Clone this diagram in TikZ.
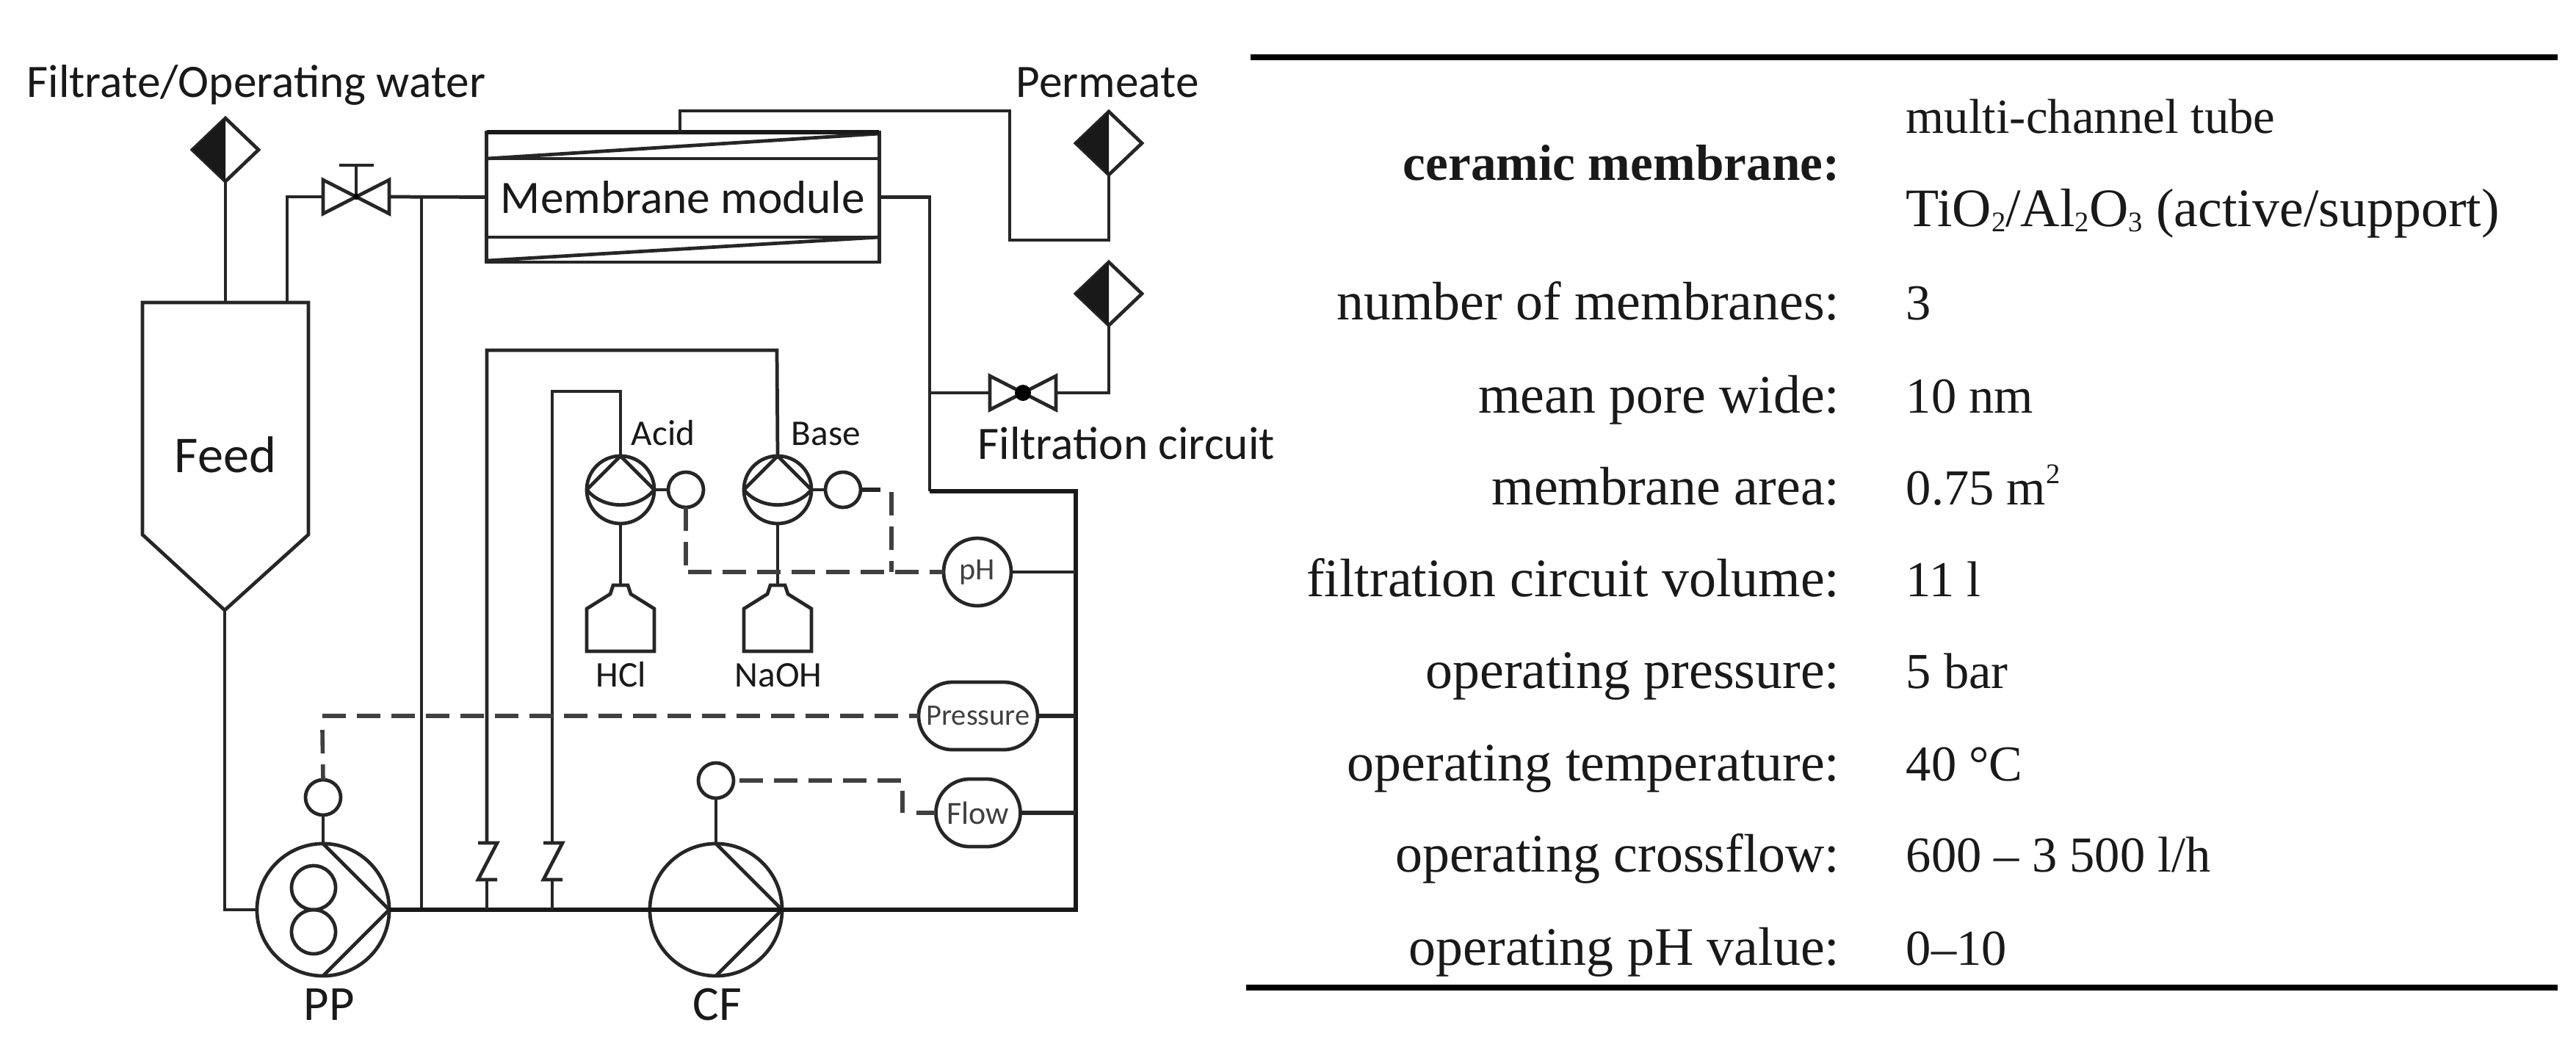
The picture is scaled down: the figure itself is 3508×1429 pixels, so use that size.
\documentclass[tikz,border=0pt]{standalone}
\usepackage{fontspec}
\setmainfont{Liberation Serif}
\newfontfamily\lab{Carlito}
\usetikzlibrary{shapes.geometric,shapes.misc}
\newcommand\lowidx[1]{\raisebox{-0.1em}{\fontsize{11}{12}\selectfont #1}}
\newcommand\upidx[1]{\raisebox{0.42em}{\fontsize{11}{12}\selectfont #1}}
\tikzset{
    pipe/.style={line width=1.35pt, black!85},
    heavy/.style={line width=1.9pt, black!90},
    branch/.style={line width=1.5pt, black!85},
    signal/.style={line width=1.6pt, black!75, dash pattern=on 0.32cm off 0.15cm},
    rule/.style={line width=2.5pt, black},
    outlet/.style={diamond, draw, pipe, inner sep=0pt, outer sep=0pt, aspect=1, minimum width=0.9cm, minimum height=0.86cm},
    sensor/.style={circle, draw, pipe, inner sep=0pt, outer sep=0pt, minimum size=0.48cm},
    meter/.style={rounded rectangle, draw, pipe, inner sep=0pt, outer sep=0pt, minimum height=0.92cm, text=black!75, font=\lab\fontsize{11.5}{13}\selectfont},
    bigpump/.style={circle, draw, pipe, inner sep=0pt, outer sep=0pt, minimum size=1.8cm},
    dosepump/.style={circle, draw, pipe, inner sep=0pt, outer sep=0pt, minimum size=0.92cm},
    txt/.style={anchor=base, inner sep=0pt, text=black!90, font=\lab\fontsize{18}{20}\selectfont},
    txts/.style={txt, font=\lab\fontsize{14}{16}\selectfont},
    row/.style={inner sep=0pt, text=black!90, font=\fontsize{21}{24}\selectfont},
    rowval/.style={row, font=\fontsize{19.5}{24}\selectfont},
}
\begin{document}
\begin{tikzpicture}[x=0.01cm, y=-0.01cm]
    \useasboundingbox (0,0) rectangle (3508,1429);

    % feed tank
    \draw[pipe] (194,412) -- (420,412) -- (420,728) -- (306,831) -- (194,728) -- cycle;
    \node[txt, font=\lab\fontsize{20}{24}\selectfont] (feed) at (307,643) {Feed};
    \coordinate (tankTop) at (307,412);
    \coordinate (tankVent) at (391,412);
    \coordinate (tankOut) at (306,831);

    % outlets
    \node[outlet] (outFiltrate) at (307,204) {};
    \node[outlet] (outPermeate) at (1510,195) {};
    \node[outlet] (outCircuit) at (1510,400) {};
    \foreach \d in {outFiltrate,outPermeate,outCircuit}
        \fill[black!90] (\d.north) -- (\d.west) -- (\d.south) -- cycle;

    % membrane module
    \node[draw, pipe, inner sep=0pt, outer sep=0pt, minimum width=5.34cm, minimum height=1.77cm, text=black!90, font=\lab\fontsize{18}{20}\selectfont] (module) at (930,268.5) {Membrane module};
    \draw[pipe] (module.west |- 0,216) -- (module.east |- 0,216);
    \draw[pipe] (module.west |- 0,323) -- (module.east |- 0,323);
    \draw[pipe] (module.west |- 0,216) -- (module.east |- 0,182);
    \draw[pipe] (module.west |- 0,355) -- (module.east |- 0,323);
    \draw[heavy] (module.north west) -- (module.north east);
    \coordinate (permOut) at (926,180);

    % valves
    \coordinate (valveA) at (485,268);
    \coordinate (valveAl) at (440,268);
    \coordinate (valveAr) at (530,268);
    \coordinate (valveB) at (1393,535);
    \coordinate (valveBl) at (1348,535);
    \coordinate (valveBr) at (1439,535);
    \foreach \v in {valveA,valveB} {
        \draw[pipe] (\v) -- ++(-45,-23) -- ++(0,46) -- cycle;
        \draw[pipe] (\v) -- ++(45,-23) -- ++(0,46) -- cycle;
    }
    \draw[pipe] (valveA) -- (485,225);
    \draw[pipe] (462,225) -- (509,225);
    \fill[black] (valveB) circle [radius=11];
    \fill[black] (valveA) circle [radius=4];

    % pumps
    \node[bigpump] (PP) at (440,1239) {};
    \node[bigpump] (CF) at (975,1239) {};
    \foreach \p in {PP,CF}
        \draw[pipe] (\p.north) -- (\p.east) -- (\p.south);
    \draw[pipe] (427,1209) circle [radius=30];
    \draw[pipe] (427,1269) circle [radius=30];
    \node[dosepump] (acid) at (845,667) {};
    \node[dosepump] (base) at (1059,667) {};
    \foreach \p in {acid,base} {
        \draw[pipe] (\p.north) -- (\p.west);
        \draw[pipe] (\p.north) -- (\p.east);
        \draw[pipe] (\p.west) to[bend right=50] (\p.east);
    }

    % sensors
    \node[sensor] (sensAcid) at (934,667) {};
    \node[sensor] (sensBase) at (1148,667) {};
    \node[sensor] (sensPP) at (440,1086) {};
    \node[sensor] (sensCF) at (975,1063) {};

    % meters
    \node[circle, draw, pipe, inner sep=0pt, outer sep=0pt, minimum size=0.92cm, text=black!75, font=\lab\fontsize{12}{14}\selectfont] (pH) at (1331,779) {pH};
    \node[meter, minimum width=1.62cm] (pressure) at (1332,975) {Pressure};
    \node[meter, minimum width=1.15cm, font=\lab\fontsize{12.5}{14}\selectfont] (flow) at (1332,1107) {Flow};

    % bottles
    \foreach \b/\cx in {bottleA/845,bottleB/1059} {
        \coordinate (\b) at (\cx,797);
        \draw[pipe] (\cx-10,797) -- (\cx+10,797) -- (\cx+14,809) -- (\cx+46,829) -- (\cx+46,887)
            -- (\cx-46,887) -- (\cx-46,829) -- (\cx-14,809) -- cycle;
    }

    % check valves
    \foreach \z/\cx in {A/663,B/752} {
        \coordinate (z\z t) at (\cx,1148);
        \coordinate (z\z b) at (\cx,1198);
        \coordinate (z\z m) at (\cx,1239);
        \draw[pipe] (\cx-12,1148) -- (\cx+14,1148) -- (\cx-12,1198) -- (\cx+14,1198);
    }

    % pipes
    \draw[pipe] (outFiltrate.south) -- (tankTop);
    \draw[pipe] (tankVent) |- (valveAl);
    \draw[pipe] (valveAr) -- (module.west);
    \draw[pipe] (574,268) -- (574,1239);
    \draw[pipe] (tankOut) |- (PP.west);
    \draw[pipe] (permOut) |- (1375,151) |- (outPermeate.south |- 0,327) -- (outPermeate.south);
    \draw[pipe] (module.east) -| (1266,669);
    \draw[pipe] (1266,535) -- (valveBl);
    \draw[pipe] (valveBr) -| (outCircuit.south);
    \draw[heavy] (1266,669) -| (1465,1239) -- (CF.east);
    \draw[heavy] (PP.east) -- (CF.east);
    \draw[pipe] (zAt) |- (1058,477) -- (base.north);
    \draw[pipe] (zBt) |- (845,533) -- (acid.north);
    \draw[pipe] (zAb) -- (zAm);
    \draw[pipe] (zBb) -- (zBm);
    \draw[pipe] (acid.south) -- (bottleA);
    \draw[pipe] (base.south) -- (bottleB);
    \draw[pipe] (acid.east) -- (sensAcid.west);
    \draw[pipe] (base.east) -- (sensBase.west);
    \draw[pipe] (PP.north) -- (sensPP.south);
    \draw[pipe] (CF.north) -- (sensCF.south);
    \draw[pipe] (pH.east) -- (pH.east -| 1465,0);
    \draw[branch] (pressure.east) -- (pressure.east -| 1465,0);
    \draw[branch] (flow.east) -- (flow.east -| 1465,0);

    % signal lines
    \draw[signal] (sensAcid.south) -- (934,770);
    \draw[signal] (937,779) -- (pH.west);
    \draw[branch] (sensBase.east) -- (1199,667);
    \draw[signal] (1214,670) -- (1214,779);
    \draw[signal] (439,975) -- (pressure.west);
    \draw[signal] (439,994) -- (sensPP.north);
    \draw[signal] (1007,1063) -- (1228,1063);
    \draw[signal] (1229,1077) -- (1229,1107);
    \draw[signal] (1248,1107) -- (flow.west);

    % labels
    \node[txt, anchor=base west] (tFiltrate) at (36,132) {Filtrate/Operating water};
    \node[txt, anchor=base west] (tPermeate) at (1383,132) {Permeate};
    \node[txt, anchor=base west] (tCircuit) at (1331,625) {Filtration circuit};
    \node[txts, anchor=base west] (tAcid) at (859,606) {Acid};
    \node[txts, anchor=base west] (tBase) at (1077,606) {Base};
    \node[txts] (tHCl) at (846,935) {HCl};
    \node[txts] (tNaOH) at (1060,935) {NaOH};
    \node[txt, font=\lab\fontsize{19}{22}\selectfont] (tPP) at (448,1389) {PP};
    \node[txt, font=\lab\fontsize{19}{22}\selectfont] (tCF) at (977,1389) {CF};

    % table
    \draw[rule] (1703,78) -- (3483,78);
    \draw[rule] (1697,1345) -- (3483,1345);
    \node[row, anchor=base east, font=\bfseries\fontsize{19.7}{24}\selectfont] (lblMem) at (2506,245) {ceramic membrane:};
    \node[rowval, anchor=base west, font=\fontsize{19}{24}\selectfont] (valTube) at (2595,181) {multi-channel tube};
    \node[row, anchor=base west] (valMat) at (2595,308) {TiO\lowidx{2}/Al\lowidx{2}O\lowidx{3} (active/support)};
    \foreach \lbl/\val/\yy in {
        {number of membranes:}/{3}/435,
        {mean pore wide:}/{10 nm}/562,
        {membrane area:}/{0.75 m\upidx{2}}/687,
        {filtration circuit volume:}/{11 l}/812,
        {operating pressure:}/{5 bar}/937,
        {operating temperature:}/{40 °C}/1063,
        {operating crossflow:}/{600 – 3 500 l/h}/1187,
        {operating pH value:}/{0–10}/1314} {
        \node[row, anchor=base east] (lbl\yy) at (2506,\yy) {\lbl};
        \node[rowval, anchor=base west] (val\yy) at (2595,\yy) {\val};
    }
\end{tikzpicture}
\end{document}
